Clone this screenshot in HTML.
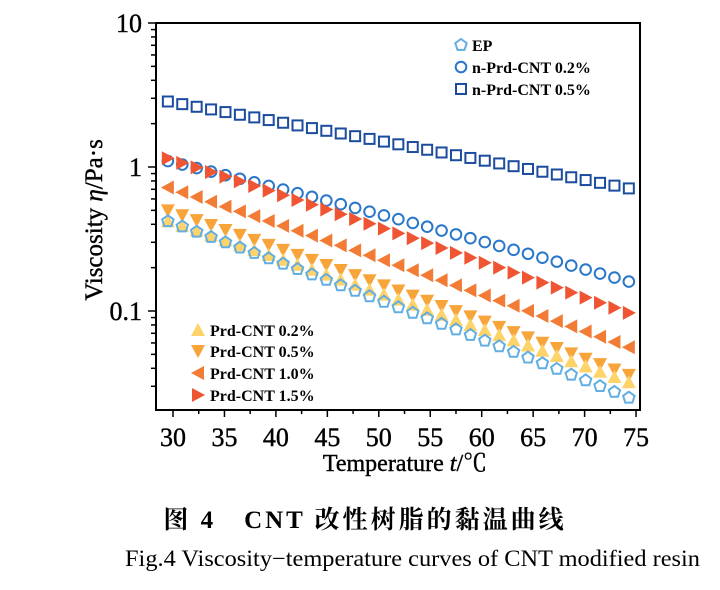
<!DOCTYPE html>
<html><head><meta charset="utf-8"><style>
body{margin:0;background:#fff;width:720px;height:585px;overflow:hidden}
svg text{font-family:"Liberation Serif","Noto Serif CJK SC",serif}
</style></head><body>
<svg id="s" width="720" height="585" xmlns="http://www.w3.org/2000/svg"></svg>
<script>
const s=document.getElementById('s');let h='';
const X=t=>173+(t-30)*10.29, Y=v=>167-144*Math.log10(v);
h+='<rect x="156" y="23" width="484" height="387" fill="none" stroke="#000" stroke-width="2"/>';
for(let t=30;t<=75;t+=2.5){const x=X(t);h+=`<line x1="${x}" y1="410" x2="${x}" y2="${t%5==0?417:414}" stroke="#000" stroke-width="1.5"/>`;
if(t%5==0)h+=`<text x="${x}" y="446" font-size="26" text-anchor="middle" stroke="#000" stroke-width="0.4">${t}</text>`;}
for(let d=-2;d<=0;d++)for(let m=1;m<10;m++){const v=m*Math.pow(10,d);const y=Y(v);if(y>410||y<23)continue;
h+=`<line x1="${m==1?148:151}" y1="${y}" x2="156" y2="${y}" stroke="#000" stroke-width="1.5"/>`;}
h+=`<line x1="148" y1="23" x2="156" y2="23" stroke="#000" stroke-width="1.5"/>`;
[['10',23],['1',167],['0.1',311]].forEach(a=>h+=`<text x="142" y="${a[1]+9}" font-size="26" text-anchor="end" stroke="#000" stroke-width="0.4">${a[0]}</text>`);
h+='<text x="405" y="471" font-size="24" text-anchor="middle" stroke="#000" stroke-width="0.4">Temperature  <tspan font-style="italic">t</tspan>/℃</text>';
h+='<text transform="translate(102,220) rotate(-90)" font-size="25" text-anchor="middle" stroke="#000" stroke-width="0.4">Viscosity  <tspan font-style="italic">η</tspan>/Pa·s</text>';
function mk(type,x,y,c){const r=6;
if(type=='pent'){let p=[];for(let i=0;i<5;i++){const a=-Math.PI/2+i*2*Math.PI/5;p.push((x+r*Math.cos(a)).toFixed(1)+','+(y+r*Math.sin(a)).toFixed(1));}return `<polygon points="${p.join(' ')}" fill="none" stroke="${c}" stroke-width="2"/>`;}
if(type=='circ')return `<circle cx="${x}" cy="${y}" r="5.3" fill="none" stroke="${c}" stroke-width="2"/>`;
if(type=='sq')return `<rect x="${x-5}" y="${y-5}" width="10" height="10" fill="none" stroke="${c}" stroke-width="2"/>`;
if(type=='up')return `<polygon points="${x},${y-7} ${x+7},${y+6} ${x-7},${y+6}" fill="${c}"/>`;
if(type=='dn')return `<polygon points="${x},${y+7} ${x+7},${y-6} ${x-7},${y-6}" fill="${c}"/>`;
if(type=='lf')return `<polygon points="${x-7},${y} ${x+6},${y-7} ${x+6},${y+7}" fill="${c}"/>`;
if(type=='rt')return `<polygon points="${x+7},${y} ${x-6},${y-7} ${x-6},${y+7}" fill="${c}"/>`;}
const S=[['sq','#1b4c9e',2.85,0.71],['circ','#2a77c9',1.1,0.16],['rt','#ef5533',1.15,0.097],['lf','#f27c35',0.72,0.056],['dn','#f7a53a',0.5,0.036],['up','#fdd36a',0.42,0.032],['pent','#62aee2',0.42,0.025]];
S.forEach(a=>{for(let i=0;i<33;i++){const t=29.5+i*1.4;const f=(t-29.5)/44.8;
const L=Math.log10(a[2])+f*(Math.log10(a[3])-Math.log10(a[2]))+0.06*f*(1-f)*(a[0]=='sq'?0.3:1);
h+=mk(a[0],X(t),Y(Math.pow(10,L)),a[1]);}});
[['pent','#62aee2','EP',45],['circ','#2a77c9','n-Prd-CNT 0.2%',67],['sq','#1b4c9e','n-Prd-CNT 0.5%',89]].forEach(a=>{h+=mk(a[0],461,a[3],a[1]);h+=`<text x="472" y="${a[3]+6}" font-size="16" font-weight="bold">${a[2]}</text>`;});
[['up','#fdd36a','Prd-CNT 0.2%',330],['dn','#f7a53a','Prd-CNT 0.5%',351],['lf','#f27c35','Prd-CNT 1.0%',373],['rt','#ef5533','Prd-CNT 1.5%',395]].forEach(a=>{h+=mk(a[0],198,a[3],a[1]);h+=`<text x="210" y="${a[3]+6}" font-size="16" font-weight="bold">${a[2]}</text>`;});
h+='<text x="365" y="528" font-size="25" font-weight="bold" text-anchor="middle" letter-spacing="3">图 4　CNT 改性树脂的黏温曲线</text>';
h+='<text x="125" y="566" font-size="23" textLength="575" lengthAdjust="spacingAndGlyphs">Fig.4  Viscosity−temperature curves of CNT modified resin</text>';
s.innerHTML=h;
</script>
</body></html>
